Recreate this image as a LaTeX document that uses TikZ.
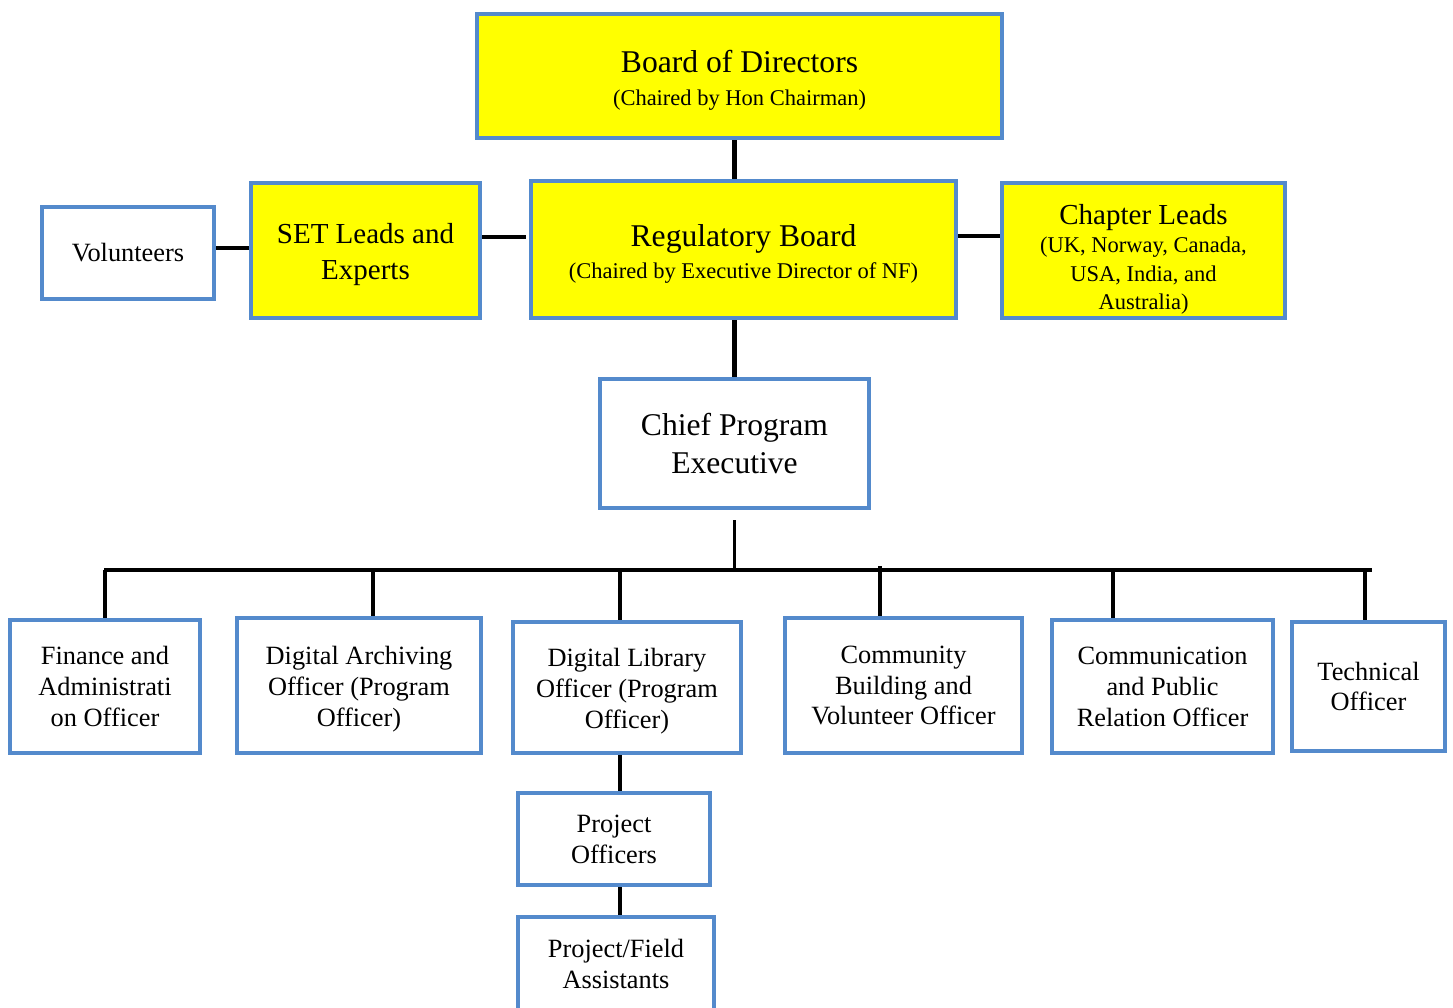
\documentclass[tikz,border=0pt]{standalone}
\usepackage{fontspec}
\setmainfont{Liberation Serif}
\usepackage{tikz}

\definecolor{boxblue}{RGB}{84,138,204}
\definecolor{boardyellow}{RGB}{255,255,0}

\tikzset{
	orgbox/.style={draw=boxblue, line width=2.3pt, fill=white, align=center, inner sep=2pt},
	headbox/.style={orgbox, fill=boardyellow},
	link/.style={line width=2.6pt, black},
	buslink/.style={line width=1.8pt, black},
}

\newcommand{\bigtxt}{\fontsize{18}{21.5}\selectfont}
\newcommand{\midtxt}{\fontsize{16.5}{20.5}\selectfont}
\newcommand{\smalltxt}{\fontsize{15}{17.6}\selectfont}
\newcommand{\subtxt}{\fontsize{12.8}{16.3}\selectfont}
\newcommand{\topgap}[1]{\rule{0pt}{#1}}

\begin{document}
\begin{tikzpicture}
				\useasboundingbox (0,0) rectangle (29.06,-20.14);
				\begin{scope}
					% top row
					\node[headbox, font=\bigtxt, minimum width=10.5cm, minimum height=2.48cm] (board) at (14.79,-1.52) {\topgap{17.5pt}Board of Directors\\[-3pt]{\subtxt (Chaired by Hon Chairman)}};
					\node[headbox, font=\bigtxt, minimum width=8.5cm, minimum height=2.74cm] (regboard) at (14.87,-4.99) {\topgap{17.5pt}Regulatory Board\\[-3pt]{\subtxt (Chaired by Executive Director of NF)}};
					\node[headbox, font=\midtxt, minimum width=4.58cm, minimum height=2.70cm] (setleads) at (7.31,-5.01) {\topgap{16pt}SET Leads and\\Experts};
					\node[orgbox, font=\smalltxt, minimum width=3.44cm, minimum height=1.84cm] (volunteers) at (2.56,-5.06) {Volunteers};
					\node[headbox, font=\subtxt, minimum width=5.66cm, minimum height=2.70cm] (chapter) at (22.87,-5.01) {\topgap{21.5pt}{\midtxt Chapter Leads}\\[0pt](UK, Norway, Canada,\\USA, India, and\\Australia)};

					\node[orgbox, font=\bigtxt, minimum width=5.38cm, minimum height=2.58cm] (chief) at (14.69,-8.87) {Chief Program\\Executive};

					% officers
					\node[orgbox, font=\smalltxt, minimum width=3.80cm, minimum height=2.66cm] (finance) at (2.10,-13.73) {Finance and\\Administrati\\on Officer};
					\node[orgbox, font=\smalltxt, minimum width=4.88cm, minimum height=2.70cm] (archiving) at (7.18,-13.71) {\topgap{15pt}Digital Archiving\\Officer (Program\\Officer)};
					\node[orgbox, font=\smalltxt, minimum width=4.56cm, minimum height=2.62cm] (library) at (12.54,-13.75) {\topgap{15pt}Digital Library\\Officer (Program\\Officer)};
					\node[orgbox, font=\smalltxt, minimum width=4.74cm, minimum height=2.70cm] (community) at (18.07,-13.71) {Community\\Building and\\Volunteer Officer};
					\node[orgbox, font=\smalltxt, minimum width=4.42cm, minimum height=2.66cm] (comms) at (23.25,-13.73) {Communication\\and Public\\Relation Officer};
					\node[orgbox, font=\smalltxt, minimum width=3.06cm, minimum height=2.58cm] (technical) at (27.37,-13.73) {Technical\\Officer};

					\node[orgbox, font=\smalltxt, minimum width=3.84cm, minimum height=1.84cm] (projoff) at (12.28,-16.78) {Project\\Officers};
					\node[orgbox, font=\smalltxt, minimum width=3.92cm, minimum height=1.88cm] (fieldasst) at (12.32,-19.28) {Project/Field\\Assistants};

					% links between the boards
					\draw[link] (board.south -| chief.north) -- (regboard.north -| chief.north);
					\draw[link] (regboard.south -| chief.north) -- (chief.north);
					\draw[link] ([yshift=0.1cm]volunteers.east) -- ([yshift=0.1cm]volunteers.east -| setleads.west);
					\draw[link] ([yshift=0.27cm]setleads.east) -- ([xshift=-0.06cm,yshift=0.27cm]setleads.east -| regboard.west);
					\draw[link] ([yshift=0.27cm]regboard.east) -- ([yshift=0.27cm]regboard.east -| chapter.west);

					% bus to the officers
					\coordinate (busleft) at (2.08,-11.4);
					\coordinate (busright) at (27.44,-11.4);
					\draw[buslink] ([yshift=-0.2cm]chief.south) -- (chief.south |- busleft);
					\draw[buslink] (busleft) -- (busright);
					\draw[buslink] (finance.north) -- (finance.north |- busleft);
					\draw[buslink] ([xshift=0.28cm]archiving.north) -- ([xshift=0.28cm]archiving.north |- busleft);
					\draw[buslink] ([xshift=-0.14cm]library.north) -- ([xshift=-0.14cm]library.north |- busleft);
					\draw[buslink] ([xshift=-0.47cm]community.north) -- ([xshift=-0.47cm,yshift=0.08cm]community.north |- busleft);
					\draw[buslink] ([xshift=-0.99cm]comms.north) -- ([xshift=-0.99cm]comms.north |- busleft);
					\draw[buslink] ([xshift=-0.07cm]technical.north) -- ([xshift=-0.07cm]technical.north |- busleft);

					% under the digital library
					\draw[link] ([xshift=-0.14cm]library.south) -- ([xshift=-0.14cm]library.south |- projoff.north);
					\draw[link] ([xshift=0.12cm]projoff.south) -- ([xshift=0.12cm]projoff.south |- fieldasst.north);
				\end{scope}
\end{tikzpicture}
\end{document}
